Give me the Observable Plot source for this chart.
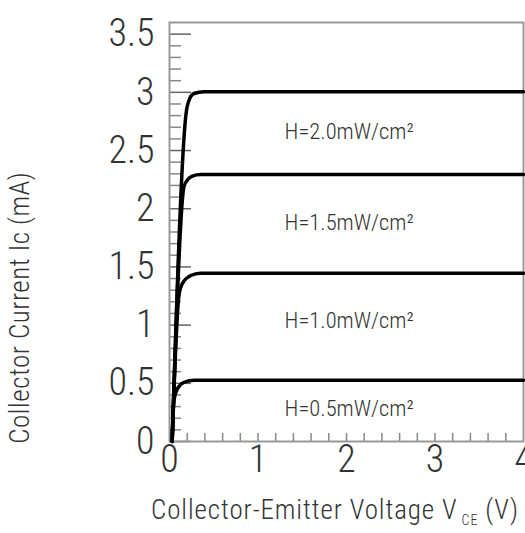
<!DOCTYPE html>
<html><head><meta charset="utf-8">
<script src="https://cdn.jsdelivr.net/npm/d3@7"></script>
<script src="https://cdn.jsdelivr.net/npm/@observablehq/plot@0.6"></script>
<style>body{margin:0;background:#fff} #chart svg{display:block}</style>
</head><body><div id="chart"></div>
<script>
// Curve data (V_CE in volts, Ic in mA)
const seriesNames = ["H=0.5mW/cm²", "H=1.0mW/cm²", "H=1.5mW/cm²", "H=2.0mW/cm²"];
const vce05 = [0.03, 0.05, 0.087, 0.16, 0.28, 4.0];
const ic05  = [0.0, 0.35, 0.45, 0.507, 0.527, 0.527];
const vce10 = [0.03, 0.106, 0.144, 0.24, 0.35, 4.0];
const ic10  = [0.0, 1.25, 1.354, 1.426, 1.446, 1.446];
const vce15 = [0.03, 0.163, 0.2, 0.26, 0.35, 4.0];
const ic15  = [0.0, 2.187, 2.245, 2.28, 2.294, 2.294];
const vce20 = [0.03, 0.193, 0.22, 0.276, 0.39, 4.0];
const ic20  = [0.0, 2.85, 2.93, 2.99, 3.005, 3.005];

// Annotation placement (data units)
const labelX = [2.03, 2.03, 2.03, 2.03];
const labelY = [0.28, 1.04, 1.88, 2.66];

// Ticks
const yTickValues = [0, 0.5, 1, 1.5, 2, 2.5, 3, 3.5];
const yTickLabels = ["0", "0.5", "1", "1.5", "2", "2.5", "3", "3.5"];
const xTickValues = [0, 1, 2, 3, 4];
const xTickLabels = ["0", "1", "2", "3", "4"];
const yMinorTicks = [0.1,0.2,0.3,0.4,0.6,0.7,0.8,0.9,1.1,1.2,1.3,1.4,1.6,1.7,1.8,1.9,2.1,2.2,2.3,2.4,2.6,2.7,2.8,2.9,3.1,3.2,3.3,3.4];
const xMinorTicks = [0.2,0.4,0.6,0.8,1,1.2,1.4,1.6,1.8,2,2.2,2.4,2.6,2.8,3,3.2,3.4,3.6,3.8];

const xLabel = "Collector-Emitter Voltage V";
const xLabelSub = "CE";
const xLabelTail = " (V)";
const yLabel = "Collector Current Ic (mA)";

const allV = [vce05, vce10, vce15, vce20];
const allI = [ic05, ic10, ic15, ic20];
const rows = [];
allV.forEach((vs, s) => vs.forEach((v, i) => rows.push({series: seriesNames[s], v, i: allI[s][i]})));
const labels = seriesNames.map((t, k) => ({t, x: labelX[k], y: labelY[k]}));

const W = 525, H = 533, ML = 169, MR = 2, MT = 22, MB = 92;
const FW = W - ML - MR, FH = H - MT - MB;
const FONT = "'Liberation Sans Narrow', 'Roboto Condensed', 'Liberation Sans', sans-serif";

const plot = Plot.plot({
  width: W, height: H,
  marginLeft: ML, marginRight: MR, marginTop: MT, marginBottom: MB,
  style: {fontFamily: FONT, color: "#333", background: "#fff"},
  x: {domain: [0, 4]},
  y: {domain: [0, 3.6]},
  marks: [
    Plot.tickY(yMinorTicks, {y: d => d, insetRight: FW - 12, stroke: "#888", strokeWidth: 1.5}),
    Plot.tickY(yTickValues, {y: d => d, insetRight: FW - 22, stroke: "#666", strokeWidth: 1.5}),
    Plot.tickX(xMinorTicks, {x: d => d, insetTop: FH - 8, stroke: "#888", strokeWidth: 1.5}),
    Plot.axisY(yTickValues, {tickSize: 0, tickPadding: 15, fontSize: 38, fontWeight: 300, tickFormat: (d) => yTickLabels[yTickValues.indexOf(d)], label: null}),
    Plot.axisX(xTickValues, {tickSize: 0, tickPadding: 4, fontSize: 38, fontWeight: 300, tickFormat: d => xTickLabels[xTickValues.indexOf(d)], label: null}),
    Plot.frame({stroke: "#999", strokeWidth: 2}),
    Plot.line(rows, {x: "v", y: "i", z: "series", stroke: "#000", strokeWidth: 3.5, curve: "monotone-x"}),
    Plot.text(labels, {x: "x", y: "y", text: "t", fontSize: 22.5, fontWeight: 300, fill: "#333", textAnchor: "middle"}),
    Plot.text([yLabel], {frameAnchor: "left", y: () => 1.15, dx: -149, rotate: -90, textAnchor: "middle", fontSize: 27, fontWeight: 300, fill: "#333", text: d => d}),
    Plot.text([xLabel], {frameAnchor: "bottom", x: () => 1.87, dy: 77, textAnchor: "middle", fontSize: 27, fontWeight: 300, fill: "#333", text: d => d})
  ]
});

// letter spacing for the axis titles
d3.select(plot).selectAll("text").filter(function() { return this.textContent === yLabel; })
  .attr("letter-spacing", 0.5);

// subscript for V_CE
d3.select(plot).selectAll("text").filter(function() { return this.textContent === xLabel; })
  .each(function() {
    const t = d3.select(this);
    t.attr("letter-spacing", 0.9);
    t.text(null);
    t.append("tspan").text(xLabel);
    t.append("tspan").attr("font-size", 14).attr("dy", 6).attr("dx", 4).text(xLabelSub);
    t.append("tspan").attr("dy", -6).text(xLabelTail);
  });

document.getElementById("chart").appendChild(plot);
</script>
</body></html>
